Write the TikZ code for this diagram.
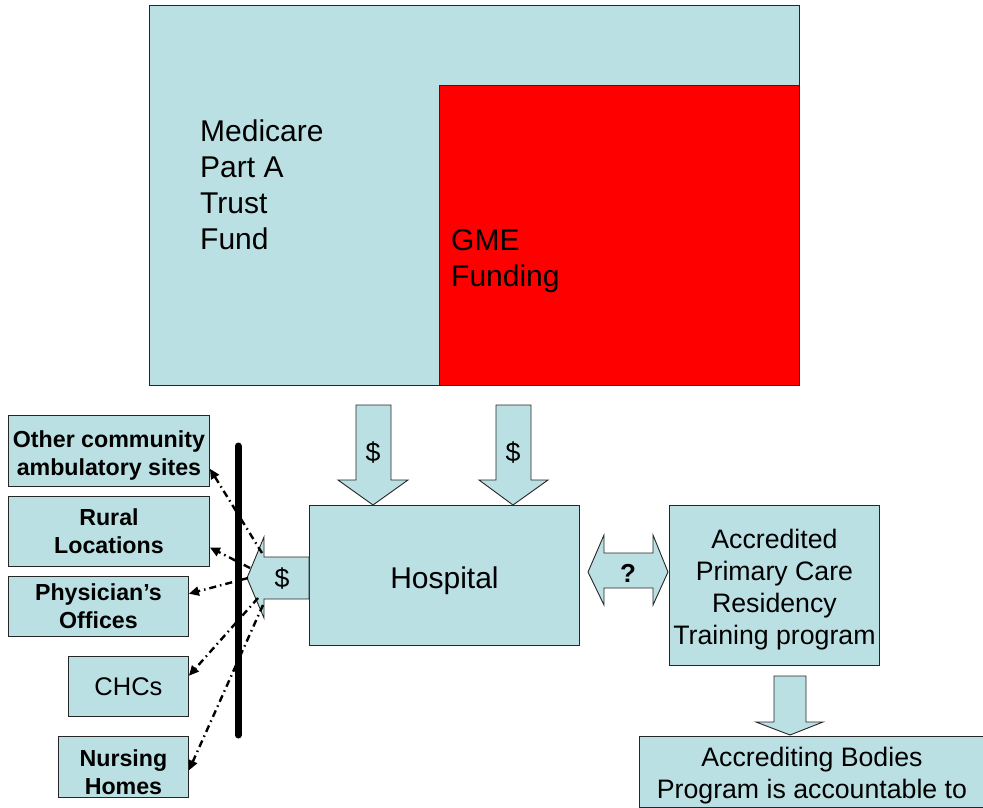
\documentclass[tikz,border=0pt]{standalone}
\usepackage{fontspec}
\setmainfont{Liberation Sans}
\usetikzlibrary{arrows.meta}
\definecolor{gmeblue}{RGB}{187,224,227}
\tikzset{
  panel/.style={draw=black!85, fill=gmeblue, line width=0.9pt, inner sep=0pt},
  site/.style={panel, anchor=north west, align=center, font=\bfseries\fontsize{23.2}{28}\selectfont},
  flow/.style={draw=black!85, fill=gmeblue, line width=0.9pt},
  payout/.style={line width=2.4pt, dash pattern=on 7pt off 4pt on 1.5pt off 4pt, -{Triangle[length=10pt,width=9pt]}},
  big/.style={font=\fontsize{30}{36}\selectfont},
  mid/.style={font=\fontsize{26.7}{32}\selectfont}
}
\begin{document}
\begin{tikzpicture}[x=1pt,y=-1pt]
\useasboundingbox (0,0) rectangle (983,807);

% trust fund with the GME share
\node[panel, anchor=north west, minimum width=650pt, minimum height=380pt] (fund) at (149,5) {};
\node[draw=black!85, fill=red, line width=0.9pt, anchor=north west, minimum width=360pt, minimum height=300pt] (gme) at (439,85) {};
\node[big, anchor=west, align=left, inner sep=0pt] (fundtxt) at (200,185) {Medicare\\Part A\\Trust\\Fund};
\node[big, anchor=west, align=left, inner sep=0pt] (gmetxt) at (451,261) {GME\\Funding};

% money going down to the hospital
\draw[flow] (356,405) -- (391,405) -- (391,480) -- (408,480) -- (373,505) -- (338,480) -- (356,480) -- cycle;
\draw[flow] (496,405) -- (531,405) -- (531,480) -- (548,480) -- (513,505) -- (479,480) -- (496,480) -- cycle;
\node[mid] (pay1) at (373,453) {\$};
\node[mid] (pay2) at (513,453) {\$};

\node[panel, anchor=north west, minimum width=270pt, minimum height=140pt, text height=32pt, font=\fontsize{30}{36}\selectfont] (hosp) at (309,505) {Hospital};
\node[panel, anchor=north west, minimum width=210pt, minimum height=160pt, text height=123.5pt, mid, align=center] (prog) at (669,505) {Accredited\\Primary Care\\Residency\\Training program};
\node[panel, anchor=north west, minimum width=345pt, minimum height=71pt, text height=59.5pt, mid, align=center] (bodies) at (639,736) {Accrediting Bodies\\Program is accountable to};

% hospital <-> program
\draw[flow] (588,572) -- (604,535) -- (604,553) -- (653,553) -- (653,535) -- (668,572) -- (653,605) -- (653,588) -- (604,588) -- (604,605) -- cycle;
\node[font=\bfseries\fontsize{26}{30}\selectfont] (ask) at (628,573) {?};

% program -> accrediting bodies
\draw[flow] (774,676) -- (806,676) -- (806,722) -- (823,722) -- (790,735) -- (756,722) -- (774,722) -- cycle;

% hospital pays out to the sites
\draw[flow] (247,578) -- (264,537) -- (264,557) -- (309,557) -- (309,599) -- (264,599) -- (264,618) -- cycle;
\node[mid] (pay3) at (282,579) {\$};

\node[site, minimum width=201pt, minimum height=71pt, text height=53pt] (other) at (8,415) {Other community\\ambulatory sites};
\node[site, minimum width=201pt, minimum height=70pt] (rural) at (8,496) {Rural\\Locations};
\node[site, minimum width=180pt, minimum height=60pt] (phys) at (8,576) {Physician’s\\Offices};
\node[site, minimum width=120pt, minimum height=60pt, font=\fontsize{25.5}{30}\selectfont] (chc) at (68,656) {CHCs};
\node[site, minimum width=130pt, minimum height=61pt, text height=55pt] (nurse) at (58,736) {Nursing\\Homes};

\coordinate (bartop) at (238,446);
\coordinate (barbot) at (238,735);
\draw[line width=7pt, line cap=round] (bartop) -- (barbot);

\coordinate (fan1) at (262,553);
\coordinate (fan2) at (250,568);
\coordinate (fan3) at (248,578);
\coordinate (fan4) at (258,598);
\coordinate (fan5) at (263,605);
\foreach \i/\site in {1/other.-10, 2/rural.-9, 3/phys.8, 4/chc.10, 5/nurse.-3}
   \draw[payout] (fan\i) -- (\site);
\end{tikzpicture}
\end{document}
